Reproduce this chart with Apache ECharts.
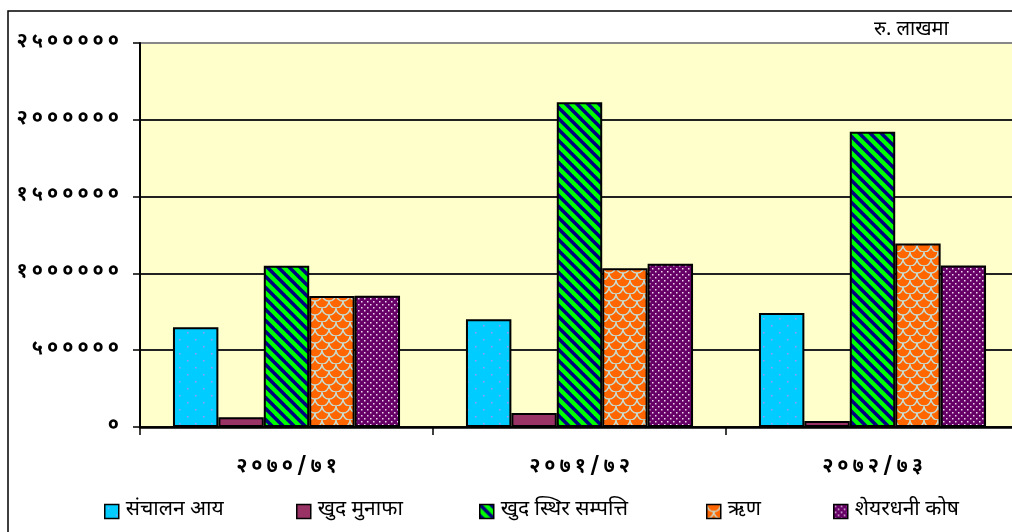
<!DOCTYPE html>
<html>
<head>
<meta charset="utf-8">
<script src="https://cdn.jsdelivr.net/npm/echarts@6/dist/echarts.min.js"></script>
<style>
  html, body { margin: 0; padding: 0; background: #fff; }
  #main { width: 1012px; height: 532px; }
</style>
</head>
<body>
<div id="main"></div>
<script>
const categories = ['२०७०/७१', '२०७१/७२', '२०७२/७३'];
const seriesNames = ['संचालन आय', 'खुद मुनाफा', 'खुद स्थिर सम्पत्ति', 'ऋण', 'शेयरधनी कोष'];
const operatingIncome = [649000, 701000, 742000];
const netProfit = [63000, 91000, 39000];
const netFixedAssets = [1050000, 2115000, 1922000];
const loans = [853000, 1034000, 1195000];
const shareholdersFund = [855000, 1063000, 1052000];
const yTickLabels = ['०', '५०००००', '१००००००', '१५०००००', '२००००००', '२५०००००'];
const unitLabel = 'रु. लाखमा';

const FONT = "'Noto Sans Devanagari', 'Lohit Devanagari', 'Noto Sans', 'DejaVu Sans', sans-serif";

// small canvas tiles used as fill patterns
function tile(w, h, bg, draw) {
  const c = document.createElement('canvas');
  c.width = w; c.height = h;
  const ctx = c.getContext('2d');
  ctx.fillStyle = bg;
  ctx.fillRect(0, 0, w, h);
  draw(ctx, w, h);
  return { image: c, repeat: 'repeat' };
}

const cyanFill = tile(16, 14, '#00CCFF', (ctx) => {
  ctx.fillStyle = '#9999FF';
  ctx.fillRect(3, 3, 1.5, 1.5);
  ctx.fillRect(11, 10, 1.5, 1.5);
});
const maroonFill = '#993366';
const greenFill = tile(11, 11, '#00FF00', (ctx, w, h) => {
  ctx.strokeStyle = '#000080';
  ctx.lineWidth = 3.5;
  [-w, 0, w].forEach((dx) => {
    ctx.beginPath();
    ctx.moveTo(dx - 2, -2);
    ctx.lineTo(dx + w + 2, h + 2);
    ctx.stroke();
  });
});
const orangeFill = tile(14, 14, '#FF6600', (ctx) => {
  ctx.strokeStyle = '#C8DCD0';
  ctx.lineWidth = 1.4;
  [[7, 0], [0, 7], [14, 7], [7, 14]].forEach(([x, y]) => {
    ctx.beginPath();
    ctx.arc(x, y, 7, 0, Math.PI);
    ctx.stroke();
  });
});
const purpleFill = tile(6, 6, '#660066', (ctx) => {
  ctx.fillStyle = '#F0D8F0';
  ctx.fillRect(1, 1, 1.5, 1.5);
  ctx.fillRect(4, 4, 1.5, 1.5);
});

const fills = [cyanFill, maroonFill, greenFill, orangeFill, purpleFill];
const values = [operatingIncome, netProfit, netFixedAssets, loans, shareholdersFund];
const legendLeft = [104, 296, 479, 706, 833];

const spaced = (s) => s.split('').join('\u2009');

const chart = echarts.init(document.getElementById('main'));

const option = {
  backgroundColor: '#fff',
  animation: false,
  textStyle: { fontFamily: FONT },
  graphic: [
    {
      type: 'rect',
      shape: { x: 8, y: 11, width: 1100, height: 600 },
      style: { fill: 'none', stroke: '#000', lineWidth: 1.5 },
      z: 0
    },
    {
      type: 'text',
      left: 874, top: 21,
      style: { text: unitLabel, fontSize: 20, fill: '#000', fontFamily: FONT }
    }
  ],
  legend: seriesNames.map((name, i) => ({
    data: [name],
    left: legendLeft[i],
    top: 501,
    padding: 0,
    icon: 'rect',
    itemWidth: 14,
    itemHeight: 14,
    itemGap: 0,
    itemStyle: { borderColor: '#000', borderWidth: 1.5 },
    textStyle: { fontSize: 21, color: '#000', fontFamily: FONT, padding: [0, 0, 0, 2] },
    selectedMode: false
  })),
  grid: {
    left: 140,
    top: 43,
    width: 879,
    bottom: 105,
    outerBoundsMode: 'none',
    show: true,
    backgroundColor: '#FFFFCC',
    borderWidth: 0
  },
  xAxis: {
    type: 'category',
    data: categories,
    axisLine: { lineStyle: { color: '#000', width: 2.5 } },
    axisTick: { show: true, length: 8, lineStyle: { color: '#000', width: 1.5 } },
    axisLabel: {
      margin: 31,
      fontSize: 20,
      fontWeight: 'bold',
      color: '#000',
      fontFamily: FONT,
      formatter: (v) => spaced(v)
    },
    splitLine: { show: false }
  },
  yAxis: {
    type: 'value',
    min: 0,
    max: 2500000,
    interval: 500000,
    axisLine: { show: true, lineStyle: { color: '#000', width: 2 } },
    axisTick: { show: true, length: 7, lineStyle: { color: '#000', width: 1.5 } },
    axisLabel: {
      margin: 21,
      fontSize: 20,
      fontWeight: 'bold',
      color: '#000',
      fontFamily: FONT,
      formatter: (v) => spaced(yTickLabels[Math.round(v / 500000)])
    },
    splitLine: {
      lineStyle: { color: ['#222', '#222', '#222', '#222', '#222', '#888'], width: 2 }
    }
  },
  series: seriesNames.map((name, i) => ({
    name,
    type: 'bar',
    data: values[i],
    barGap: '0%',
    barCategoryGap: '22.5%',
    itemStyle: { color: fills[i], borderColor: '#000', borderWidth: 2 }
  }))
};

chart.setOption(option);
</script>
</body>
</html>
